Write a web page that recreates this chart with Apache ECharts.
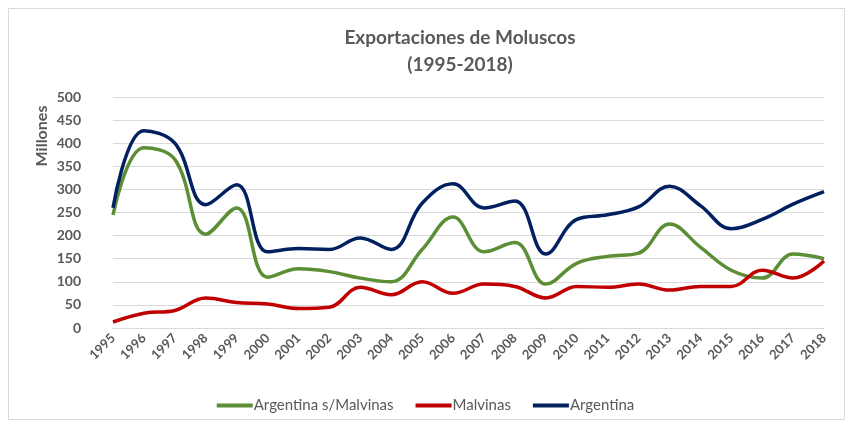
<html>
<head>
<meta charset="utf-8">
<script src="https://cdn.jsdelivr.net/npm/echarts@6/dist/echarts.min.js"></script>
<style>body{margin:0;background:#fff}</style>
</head>
<body>
<div id="main" style="width:851px;height:424px"></div>
<script type="text/javascript">
var years = ['1995','1996','1997','1998','1999','2000','2001','2002','2003','2004','2005','2006',
             '2007','2008','2009','2010','2011','2012','2013','2014','2015','2016','2017','2018'];
var sinMalvinas = [245, 390, 365, 203, 260, 110, 128, 122, 108, 100, 170, 240,
                   165, 185, 95, 140, 155, 162, 225, 175, 125, 108, 160, 150];
var malvinas = [13, 32, 38, 65, 55, 52, 42, 45, 88, 72, 100, 75,
                95, 90, 65, 90, 88, 95, 82, 90, 90, 125, 108, 145];
var argentina = [260, 427, 400, 267, 310, 165, 172, 170, 195, 170, 270, 312,
                 260, 275, 160, 235, 245, 262, 307, 265, 215, 235, 268, 295];
var yTicks = [0, 500, 50];

var myChart = echarts.init(document.getElementById('main'));
var txt = '#595959';
var font = 'Lato';

var option = {
    animation: false,
    textStyle: { fontFamily: font },
    title: {
        text: 'Exportaciones de Moluscos\n(1995-2018)',
        left: 455, top: 19, textAlign: 'center',
        textStyle: { fontSize: 19, fontWeight: 'bold', color: txt, lineHeight: 27, fontFamily: font }
    },
    graphic: [
        { type: 'rect', shape: { x: 8.5, y: 8.5, width: 836, height: 411 },
          style: { fill: 'none', stroke: '#d9d9d9', lineWidth: 1 }, silent: true },
        { type: 'text', x: 42, y: 136, rotation: Math.PI / 2,
          style: { text: 'Millones', fontSize: 16, fontWeight: 'bold', fill: txt,
                   fontFamily: font, align: 'center', verticalAlign: 'middle' } }
    ],
    legend: {
        bottom: 6, left: 'center', itemWidth: 36, itemHeight: 4, itemGap: 22,
        icon: 'rect',
        textStyle: { fontSize: 15, color: txt, fontFamily: font, padding: [0, 0, 0, -4] },
        data: ['Argentina s/Malvinas', 'Malvinas', 'Argentina']
    },
    grid: { left: 113, right: 27, top: 97, bottom: 96 },
    xAxis: {
        type: 'category', data: years, boundaryGap: false,
        axisLine: { show: true, lineStyle: { color: '#d9d9d9' } },
        axisTick: { show: false },
        axisLabel: { rotate: 45, color: txt, fontWeight: 'bold', fontSize: 13, margin: 8, interval: 0 }
    },
    yAxis: {
        type: 'value', min: yTicks[0], max: yTicks[1], interval: yTicks[2],
        axisLine: { show: false }, axisTick: { show: false },
        axisLabel: { color: txt, fontWeight: 'bold', fontSize: 14, margin: 32 },
        splitLine: { lineStyle: { color: '#d9d9d9' } }
    },
    series: [
        { name: 'Argentina s/Malvinas', type: 'line', data: sinMalvinas, smooth: 0.4,
          showSymbol: false, color: '#5b8e35', lineStyle: { width: 3.5 } },
        { name: 'Malvinas', type: 'line', data: malvinas, smooth: 0.4,
          showSymbol: false, color: '#c00000', lineStyle: { width: 3.5 } },
        { name: 'Argentina', type: 'line', data: argentina, smooth: 0.4,
          showSymbol: false, color: '#002060', lineStyle: { width: 3.5 } }
    ]
};
myChart.setOption(option);
</script>
</body>
</html>
